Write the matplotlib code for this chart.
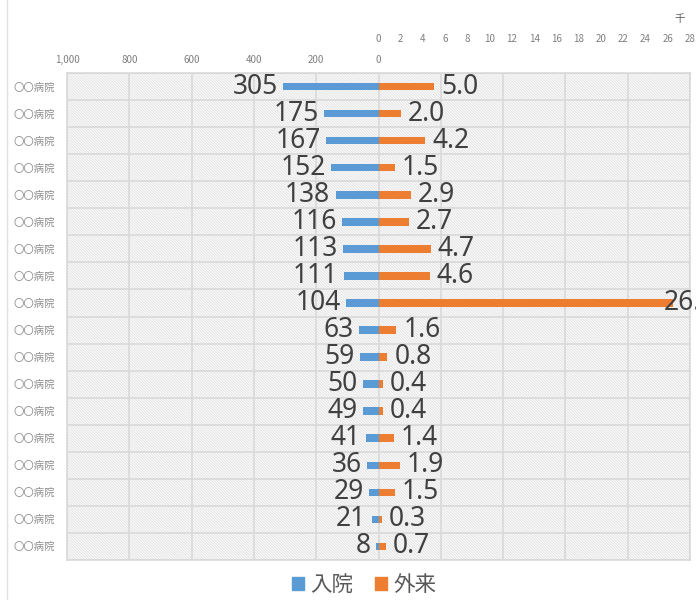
import matplotlib
matplotlib.use("Agg")
import matplotlib.pyplot as plt
from matplotlib.patches import Patch, Rectangle
from matplotlib.lines import Line2D
from matplotlib.ticker import FixedLocator, FuncFormatter

plt.rcParams['font.family'] = ['Noto Sans CJK JP', 'DejaVu Sans']
plt.rcParams['hatch.linewidth'] = 0.5

categories = ['〇〇病院'] * 18
inpatient = [305, 175, 167, 152, 138, 116, 113, 111, 104, 63, 59, 50, 49, 41, 36, 29, 21, 8]
outpatient = [5.0, 2.0, 4.2, 1.5, 2.9, 2.7, 4.7, 4.6, 26.5, 1.6, 0.8, 0.4, 0.4, 1.4, 1.9, 1.5, 0.3, 0.7]
series_names = ['入院', '外来']
left_ticks = [1000, 800, 600, 400, 200, 0]
right_ticks = list(range(0, 29, 2))
unit_label = '千'

BLUE = '#5B9BD5'
ORANGE = '#ED7D31'
GRID = '#d9d9d9'

fig = plt.figure(figsize=(6.96, 6.0), dpi=100)
W, H = 696, 600
ax = fig.add_axes([67 / W, 1 - 560 / H, (690 - 67) / W, (560 - 73) / H])

# hatched background
hatch_rect = Rectangle((0, 0), 1, 1, transform=ax.transAxes, facecolor='#fafafa',
                       edgecolor='#dedede', hatch='\\' * 12, lw=0, zorder=0)
ax.add_patch(hatch_rect)
ax.patch.set_visible(False)

n = len(categories)
y = list(range(n))

ax.set_xlim(1000, -1000)
ax.set_ylim(n - 0.5, -0.5)
ax.barh(y, inpatient, height=0.28, color=BLUE, zorder=3)

# categories and horizontal grid at boundaries
ax.set_yticks(y)
ax.set_yticklabels(categories)
ax.tick_params(axis='y', length=0, pad=9, labelsize=7.5, labelcolor='#8c8c8c')
ax.set_yticks([k + 0.5 for k in range(-1, n)], minor=True)
ax.tick_params(axis='y', which='minor', length=0)
ax.grid(axis='y', which='minor', color=GRID, lw=1.2, zorder=1)
ax.set_axisbelow(True)
for s in ax.spines.values():
    s.set_color(GRID)
    s.set_linewidth(1.2)

ax2 = ax.twiny()
ax2.set_xlim(-28, 28)
ax2.barh(y, outpatient, height=0.28, color=ORANGE, zorder=3)
ax2.set_xticks(right_ticks)
ax2.tick_params(axis='x', length=0, pad=21, labelsize=7, labelcolor='#7f7f7f')
for s in ax2.spines.values():
    s.set_visible(False)

# primary x axis ticks (grid every 200, labels only 1,000..0) on top
ax.xaxis.set_major_locator(FixedLocator(list(range(-1000, 1001, 200))))
ax.xaxis.set_major_formatter(FuncFormatter(lambda v, p: f"{int(v):,}" if v >= 0 else ""))
ax.xaxis.tick_top()
ax.xaxis.set_label_position('top')
ax.tick_params(axis='x', which='both', length=0, pad=6, labelsize=7, labelcolor='#7f7f7f',
               labeltop=True, labelbottom=False)
ax.grid(axis='x', color=GRID, lw=1.2, zorder=1)

label_kw = dict(fontsize=19, color='#404040', va='center', zorder=5,
                family=['Noto Sans', 'DejaVu Sans'])
for yi, v in zip(y, inpatient):
    ax.annotate(f"{v}", (v, yi), xytext=(-4, 0), textcoords='offset points',
                ha='right', **label_kw)
xmax = ax2.get_xlim()[1]
for yi, v in zip(y, outpatient):
    if v > xmax - 4:
        ax2.annotate(f"{v:.1f}", (xmax, yi), xytext=(-19, 0), textcoords='offset points',
                     ha='left', annotation_clip=False, **label_kw)
    else:
        ax2.annotate(f"{v:.1f}", (v, yi), xytext=(5, 0), textcoords='offset points',
                     ha='left', **label_kw)

# unit label
fig.text(680 / W, 1 - 19 / H, unit_label, fontsize=7.5, color='#595959', ha='center', va='center')

# chart border on the left
fig.add_artist(Line2D([7 / W, 7 / W], [0, 1], transform=fig.transFigure, color='#e0e0e0', lw=1))

handles = [Patch(color=BLUE), Patch(color=ORANGE)]
fig.legend(handles, series_names, loc='center', bbox_to_anchor=(364 / W, 1 - 585 / H),
           ncol=2, frameon=False, fontsize=15.5, labelcolor='#595959',
           handlelength=0.55, handleheight=0.55, handletextpad=0.3, columnspacing=1.0)

fig.savefig('out.png', dpi=100)
